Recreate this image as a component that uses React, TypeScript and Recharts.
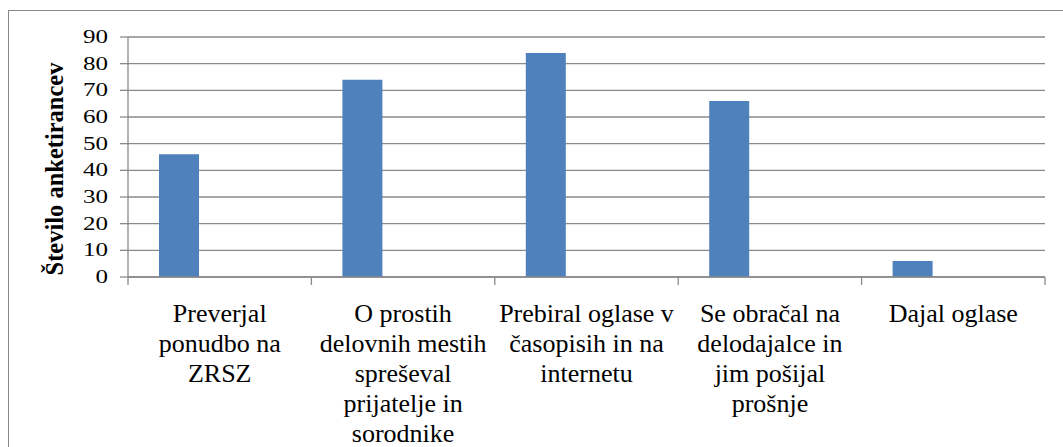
import React from "react";
import { BarChart, Bar, XAxis, YAxis, CartesianGrid, Label } from "recharts";

const categories = [
  "Preverjal\nponudbo na\nZRSZ",
  "O prostih\ndelovnih mestih\nspreševal\nprijatelje in\nsorodnike",
  "Prebiral oglase v\nčasopisih in na\ninternetu",
  "Se obračal na\ndelodajalce in\njim pošijal\nprošnje",
  "Dajal oglase",
];
const series1 = [46, 74, 84, 66, 6];
const series2 = [0, 0, 0, 0, 0];
const series3 = [0, 0, 0, 0, 0];
const yTicks = [0, 10, 20, 30, 40, 50, 60, 70, 80, 90];
const yTitle = "Število anketirancev";

const data = categories.map((c, i) => ({ name: c, s1: series1[i], s2: series2[i], s3: series3[i] }));

const W = 1063;
const H = 447;
const M = { top: 37, right: 18, bottom: 0, left: 48 };
const Y_W = 80;
const X_H = 170;
const PLOT_W = W - M.left - M.right - Y_W;
const PLOT_BOTTOM = H - M.bottom - X_H;
const BAND = PLOT_W / categories.length;
const GRID = "#8a8a8a";
const FONT = '"Liberation Serif", "Times New Roman", "DejaVu Serif", serif';

const XTick = (props: any) => {
  const { x, payload, index } = props;
  const lines = String(payload.value).split("\n");
  const half = BAND / 2;
  return (
    <g>
      <line x1={x - half} y1={PLOT_BOTTOM} x2={x - half} y2={PLOT_BOTTOM + 8} stroke={GRID} strokeWidth={1.3} />
      {index === categories.length - 1 && (
        <line x1={x + half} y1={PLOT_BOTTOM} x2={x + half} y2={PLOT_BOTTOM + 8} stroke={GRID} strokeWidth={1.3} />
      )}
      <text textAnchor="middle" fill="#000" style={{ fontFamily: FONT, fontSize: 26 }}>
        {lines.map((l, i) => (
          <tspan key={i} x={x} y={PLOT_BOTTOM + 45 + 30 * i}>
            {l}
          </tspan>
        ))}
      </text>
    </g>
  );
};

const YTick = (props: any) => {
  const { x, y, payload } = props;
  return (
    <text
      transform={`translate(${x},${y}) scale(1.39,1)`}
      x={0}
      y={0}
      dy="0.34em"
      textAnchor="end"
      fill="#000"
      style={{ fontFamily: FONT, fontSize: 18 }}
    >
      {payload.value}
    </text>
  );
};

const YTitle = (props: any) => {
  const vb = props.viewBox || {};
  const cy = (vb.y ?? 37) + (vb.height ?? 240) / 2 + 12;
  return (
    <text
      transform={`translate(63,${cy}) rotate(-90)`}
      textAnchor="middle"
      fill="#000"
      style={{ fontFamily: FONT, fontSize: 24.5, fontWeight: "bold" }}
    >
      {yTitle}
    </text>
  );
};

export default function App() {
  return (
    <div
      style={{
        position: "fixed",
        left: 0,
        top: 0,
        width: W,
        height: H,
        overflow: "hidden",
        background: "#fff",
        fontFamily: FONT,
      }}
    >
      <div
        style={{
          position: "absolute",
          left: 8,
          top: 10,
          width: 1200,
          height: 700,
          border: "1.5px solid #888",
        }}
      />
      <div style={{ position: "absolute", left: 0, top: 0 }}>
        <BarChart
          width={W}
          height={H}
          data={data}
          margin={M}
          barCategoryGap={31}
          barGap={0}
          style={{ fontFamily: FONT }}
        >
          <CartesianGrid horizontal vertical={false} stroke={GRID} strokeWidth={1.3} />
          <XAxis
            dataKey="name"
            height={X_H}
            interval={0}
            tickLine={false}
            axisLine={{ stroke: GRID, strokeWidth: 1.3 }}
            tick={<XTick />}
          />
          <YAxis
            width={Y_W}
            domain={[0, 90]}
            ticks={yTicks}
            interval={0}
            tickSize={8}
            tickMargin={12}
            tickLine={{ stroke: GRID, strokeWidth: 1.3 }}
            axisLine={{ stroke: GRID, strokeWidth: 1.3 }}
            tick={<YTick />}
          >
            <Label content={<YTitle />} />
          </YAxis>
          <Bar dataKey="s1" fill="#4F81BD" isAnimationActive={false} />
          <Bar dataKey="s2" fill="#C0504D" isAnimationActive={false} />
          <Bar dataKey="s3" fill="#9BBB59" isAnimationActive={false} />
        </BarChart>
      </div>
    </div>
  );
}
